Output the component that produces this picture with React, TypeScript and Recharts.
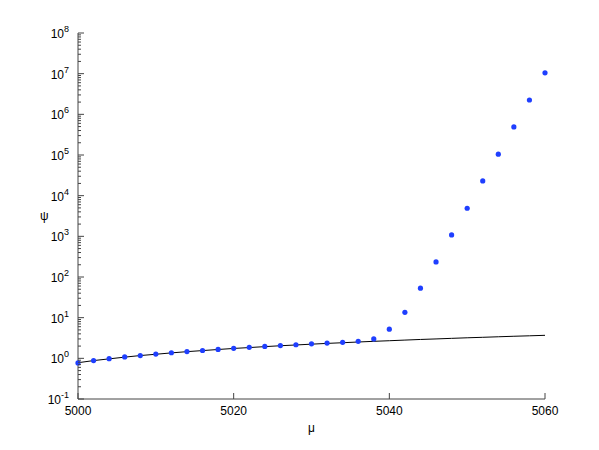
import React from "react"
import { ComposedChart, Line, Scatter, XAxis, YAxis, Label } from "recharts"

const mu = [
  5000, 5002, 5004, 5006, 5008, 5010, 5012, 5014, 5016, 5018, 5020, 5022, 5024, 5026, 5028, 5030,
  5032, 5034, 5036, 5038, 5040, 5042, 5044, 5046, 5048, 5050, 5052, 5054, 5056, 5058, 5060,
]
const psiFit = [
  0.78, 0.88, 0.97, 1.07, 1.17, 1.26, 1.36, 1.46, 1.55, 1.65, 1.75, 1.84, 1.94, 2.04, 2.13, 2.23,
  2.33, 2.42, 2.52, 2.62, 2.71, 2.81, 2.91, 3.0, 3.1, 3.2, 3.29, 3.39, 3.49, 3.58, 3.68,
]
const psiPoints = [
  0.77, 0.88, 0.98, 1.08, 1.17, 1.27, 1.37, 1.47, 1.56, 1.66, 1.76, 1.86, 1.96, 2.06, 2.16, 2.27,
  2.37, 2.48, 2.62, 3.0, 5.2, 13.5, 53, 235, 1080, 4900, 23000, 105000, 490000, 2250000, 10500000,
]
const xTicks = [5000, 5020, 5040, 5060]
const yExponents = [-1, 0, 1, 2, 3, 4, 5, 6, 7, 8]

const data = mu.map((m, i) => ({ mu: m, fit: psiFit[i], pts: psiPoints[i] }))

// major + minor ticks for the log axis
const yTicks: number[] = []
yExponents.forEach((e, i) => {
  if (i === yExponents.length - 1) {
    yTicks.push(Math.pow(10, e))
    return
  }
  for (let k = 1; k < 10; k++) yTicks.push(k * Math.pow(10, e))
})

const axisColor = "#444"
const font = "'Liberation Sans', Arial, sans-serif"

const YTick = (props: any) => {
  const { x, y, payload } = props
  const e = Math.log10(payload.value)
  const major = Math.abs(e - Math.round(e)) < 1e-6
  return (
    <g>
      <line x1={x} x2={x + (major ? 6 : 3)} y1={y} y2={y} stroke={axisColor} strokeWidth={1} />
      {major && (
        <text x={x - 9} y={y + 5} textAnchor="end" fontSize={12} fill="#000" fontFamily={font}>
          10
          <tspan dy={-6} fontSize={9}>{Math.round(e)}</tspan>
        </text>
      )}
    </g>
  )
}

const XTick = (props: any) => {
  const { x, y, payload } = props
  return (
    <g>
      <line x1={x} x2={x} y1={y} y2={y - 6} stroke={axisColor} strokeWidth={1} />
      <text x={x} y={y + 16} textAnchor="middle" fontSize={12} fill="#000" fontFamily={font}>
        {payload.value}
      </text>
    </g>
  )
}

const Dot = (props: any) => <circle cx={props.cx} cy={props.cy} r={2.6} fill="#1f3fff" />

export default function App() {
  return (
    <div style={{ position: "absolute", left: 0, top: 0, background: "#fff" }}>
      <ComposedChart width={599} height={450} data={data} margin={{ top: 33, right: 54, bottom: 11, left: 0 }}>
        <XAxis
          dataKey="mu"
          type="number"
          domain={[5000, 5060]}
          ticks={xTicks}
          tickSize={0}
          tickMargin={0}
          tick={<XTick />}
          tickLine={false}
          stroke={axisColor}
          height={40}
          interval={0}
        >
          <Label value="μ" position="insideBottom" offset={7} fontSize={12} fill="#000" fontFamily={font} />
        </XAxis>
        <YAxis
          type="number"
          scale="log"
          domain={[0.1, 1e8]}
          allowDataOverflow
          ticks={yTicks}
          tickSize={0}
          tickMargin={0}
          tick={<YTick />}
          tickLine={false}
          stroke={axisColor}
          width={78}
          interval={0}
        >
          <Label value="ψ" position="insideLeft" offset={40} fontSize={12} fill="#000" fontFamily={font} />
        </YAxis>
        <Line dataKey="fit" type="linear" stroke="#000" strokeWidth={1} dot={false} isAnimationActive={false} />
        <Scatter dataKey="pts" shape={<Dot />} isAnimationActive={false} />
      </ComposedChart>
    </div>
  )
}
